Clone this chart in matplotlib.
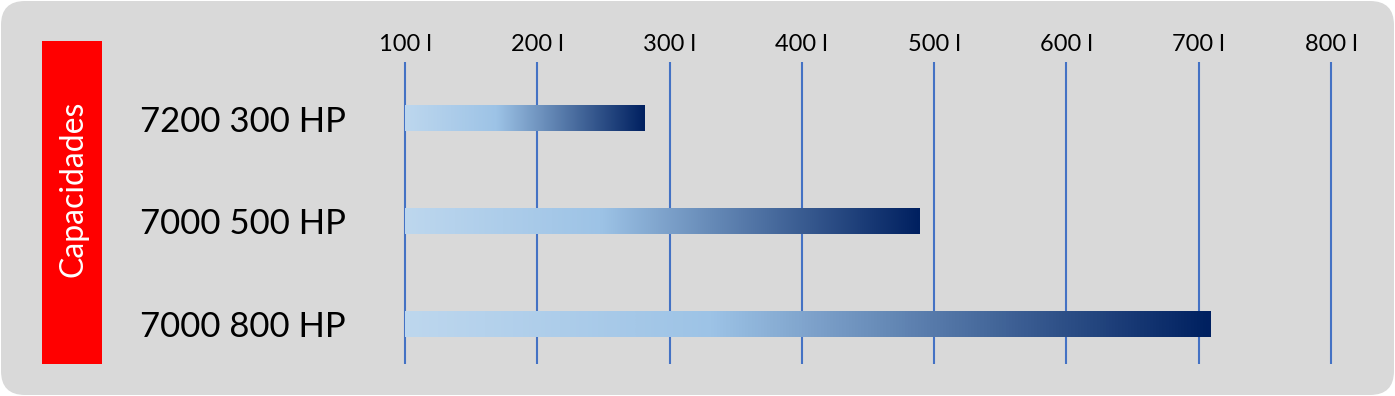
import numpy as np
import matplotlib
matplotlib.use('Agg')
import matplotlib.pyplot as plt
import matplotlib.transforms as mtransforms
from matplotlib.patches import FancyBboxPatch, Rectangle
from matplotlib.colors import LinearSegmentedColormap

plt.rcParams['font.family'] = ['Lato', 'DejaVu Sans']

# data
categories = ['7200 300 HP', '7000 500 HP', '7000 800 HP']
capacities = [281, 489, 709]
tick_values = [100, 200, 300, 400, 500, 600, 700, 800]
tick_labels = [f'{v} l' for v in tick_values]
side_title = 'Capacidades'

W, H = 1395, 396
fig = plt.figure(figsize=(W / 100, H / 100), dpi=100)
fig.patch.set_facecolor('white')

# background panel in pixel coordinates
bg = fig.add_axes([0, 0, 1, 1])
bg.set_xlim(0, W)
bg.set_ylim(0, H)
bg.axis('off')
bg.add_patch(FancyBboxPatch((1, 1), W - 2, H - 2,
                            boxstyle='round,pad=0,rounding_size=24',
                            fc='#d9d9d9', ec='none'))
bg.add_patch(Rectangle((42, 32), 60, 323, fc='#ff0000', ec='none'))
bg.text(73, 207, side_title, rotation=90, color='white', fontsize=23,
        ha='center', va='center')

# main chart axes
ax = fig.add_axes([405 / W, 32 / H, 926 / W, 302 / H])
ax.set_facecolor('none')

cmap = LinearSegmentedColormap.from_list(
    'bar_grad', [(0.0, '#bdd7ee'), (0.38, '#9dc3e6'), (1.0, '#002060')])
grad = np.linspace(0, 1, 256).reshape(1, -1)
bar_h = 0.25
for i, val in enumerate(capacities):
    ax.imshow(grad, cmap=cmap, aspect='auto', interpolation='bicubic',
              extent=(tick_values[0], val, i + bar_h / 2, i - bar_h / 2),
              zorder=3)

ax.set_xlim(tick_values[0], tick_values[-1])
ax.set_ylim(2.39, -0.55)

# gridlines, not clipped so the outer two keep full width
ax.vlines(tick_values, 2.39, -0.55, color='#4472c4', lw=1.5, zorder=2,
          clip_on=False)

ax.xaxis.tick_top()
ax.set_xticks(tick_values)
ax.set_xticklabels(tick_labels, fontsize=17)
ax.tick_params(axis='x', length=0, pad=5)
ax.set_yticks([])
for sp in ax.spines.values():
    sp.set_visible(False)

# category names, left aligned in figure space
trans = mtransforms.blended_transform_factory(fig.transFigure, ax.transData)
for i, name in enumerate(categories):
    ax.text(140 / W, i + 0.03, name, transform=trans, fontsize=25,
            ha='left', va='center', color='black')

fig.savefig('out.png', dpi=100)
